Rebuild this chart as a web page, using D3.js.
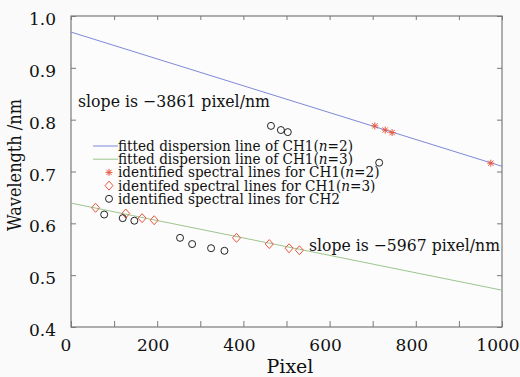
<!DOCTYPE html>
<html>
<head>
<meta charset="utf-8">
<script src="https://cdn.jsdelivr.net/npm/d3@7"></script>
<style>
  body { margin: 0; background: #fafafa; }
  svg { display: block; }
  text { font-family: "DejaVu Serif", serif; fill: #111; }
</style>
</head>
<body>
<svg id="chart" width="520" height="377"></svg>
<script>
// fitted lines (pixel, wavelength) end points
var fitN2 = [[0, 0.969], [1000, 0.710]];
var fitN3 = [[0, 0.639], [1000, 0.471]];

// identified lines, CH1 n=2 (stars)
var starPx = [705, 729, 745, 974];
var starWl = [0.788, 0.780, 0.775, 0.716];

// identified lines, CH1 n=3 (diamonds)
var diaPx = [57, 127, 165, 193, 384, 460, 506, 530];
var diaWl = [0.630, 0.619, 0.610, 0.606, 0.572, 0.560, 0.552, 0.548];

// identified lines, CH2 (circles)
var cirPx = [77, 120, 147, 253, 281, 325, 356, 464, 487, 503, 715];
var cirWl = [0.617, 0.610, 0.605, 0.572, 0.560, 0.552, 0.547, 0.788, 0.780, 0.776, 0.717];

var xTicks = [0, 200, 400, 600, 800, 1000];
var yTicks = [0.4, 0.5, 0.6, 0.7, 0.8, 0.9, 1.0];

var legendLabels = [
  ["fitted dispersion line of CH1(", "n", "=2)"],
  ["fitted dispersion line of CH1(", "n", "=3)"],
  ["identified spectral lines for CH1(", "n", "=2)"],
  ["identifed spectral lines for CH1(", "n", "=3)"],
  ["identified spectral lines for CH2", "", ""]
];

var blue = "#7f88d8", green = "#9cc48e", red = "#e8563e", axisCol = "#7a7a7a";

var svg = d3.select("#chart");
var m = {left: 71, right: 18, top: 16, bottom: 50};
var W = 520, H = 377;

var x = d3.scaleLinear().domain([0, 1000]).range([m.left, W - m.right]);
var y = d3.scaleLinear().domain([0.4, 1.0]).range([H - m.bottom, m.top]);

// box
svg.append("rect")
  .attr("x", x(0)).attr("y", y(1.0))
  .attr("width", x(1000) - x(0)).attr("height", y(0.4) - y(1.0))
  .attr("fill", "#fcfcfc").attr("stroke", axisCol).attr("stroke-width", 1.2);

// ticks on all four sides, pointing inward
var xt = d3.range(0, 1001, 100);
svg.append("g").attr("transform", "translate(0," + y(0.4) + ")")
  .call(d3.axisTop(x).tickValues(xt).tickSize(6).tickFormat(""))
  .call(g => g.select(".domain").remove());
svg.append("g").attr("transform", "translate(0," + y(1.0) + ")")
  .call(d3.axisBottom(x).tickValues(xt).tickSize(4).tickFormat(""))
  .call(g => g.select(".domain").remove());
svg.append("g").attr("transform", "translate(" + x(0) + ",0)")
  .call(d3.axisRight(y).tickValues(yTicks).tickSize(5).tickFormat(""))
  .call(g => g.select(".domain").remove());
svg.append("g").attr("transform", "translate(" + x(1000) + ",0)")
  .call(d3.axisLeft(y).tickValues(yTicks).tickSize(5).tickFormat(""))
  .call(g => g.select(".domain").remove());
svg.selectAll(".tick line").attr("stroke", axisCol);

// tick labels
svg.selectAll(".xlab").data(xTicks).enter().append("text")
  .attr("x", d => x(d) - (d === 0 ? 5 : 4))
  .attr("y", 351)
  .attr("text-anchor", "middle")
  .attr("font-size", 17)
  .text(d => d);
svg.selectAll(".ylab").data(yTicks).enter().append("text")
  .attr("x", 56)
  .attr("y", d => y(d) + 9)
  .attr("text-anchor", "end")
  .attr("font-size", 17)
  .text(d => d.toFixed(1));

// axis titles
svg.append("text").attr("x", 290).attr("y", 373)
  .attr("text-anchor", "middle").attr("font-size", 19).text("Pixel");
svg.append("text")
  .attr("transform", "translate(21,165) rotate(-90)")
  .attr("text-anchor", "middle").attr("font-size", 18)
  .attr("textLength", 132).attr("lengthAdjust", "spacingAndGlyphs")
  .text("Wavelength /nm");

// fitted lines
var line = d3.line().x(d => x(d[0])).y(d => y(d[1]));
svg.append("path").attr("d", line(fitN2)).attr("fill", "none")
  .attr("stroke", blue).attr("stroke-width", 1);
svg.append("path").attr("d", line(fitN3)).attr("fill", "none")
  .attr("stroke", green).attr("stroke-width", 1);

// marker helpers
function star(g, cx, cy) {
  var r = 3.5, d = r * 0.75;
  g.append("path")
    .attr("d", "M" + (cx - r) + "," + cy + "H" + (cx + r) +
      "M" + cx + "," + (cy - r) + "V" + (cy + r) +
      "M" + (cx - d) + "," + (cy - d) + "L" + (cx + d) + "," + (cy + d) +
      "M" + (cx - d) + "," + (cy + d) + "L" + (cx + d) + "," + (cy - d))
    .attr("stroke", red).attr("stroke-width", 1).attr("fill", "none");
}
function diamond(g, cx, cy) {
  var r = 4;
  g.append("path")
    .attr("d", "M" + cx + "," + (cy - r - 0.5) + "L" + (cx + r) + "," + cy +
      "L" + cx + "," + (cy + r + 0.5) + "L" + (cx - r) + "," + cy + "Z")
    .attr("stroke", red).attr("stroke-width", 1).attr("fill", "none");
}
function circle(g, cx, cy) {
  g.append("circle").attr("cx", cx).attr("cy", cy).attr("r", 3.5)
    .attr("stroke", "#222").attr("stroke-width", 1).attr("fill", "none");
}

var marks = svg.append("g");
starPx.forEach((p, i) => star(marks, x(p), y(starWl[i])));
diaPx.forEach((p, i) => diamond(marks, x(p), y(diaWl[i])));
cirPx.forEach((p, i) => circle(marks, x(p), y(cirWl[i])));

// slope annotations
svg.append("text").attr("x", 78).attr("y", 107).attr("font-size", 16.5)
  .attr("textLength", 192).attr("lengthAdjust", "spacingAndGlyphs")
  .text("slope is \u22123861 pixel/nm");
svg.append("text").attr("x", 309).attr("y", 251).attr("font-size", 16.5)
  .attr("textLength", 191).attr("lengthAdjust", "spacingAndGlyphs")
  .text("slope is \u22125967 pixel/nm");

// legend
var leg = svg.append("g");
var rowY = d => 146 + d * 13.2;
var rows = [];
legendLabels.forEach(function(lab, i) {
  var t = leg.append("text").attr("x", 118).attr("y", rowY(i) + 5)
    .attr("font-size", 14);
  t.append("tspan").text(lab[0]);
  if (lab[1]) {
    t.append("tspan").attr("font-style", "italic").text(lab[1]);
    t.append("tspan").text(lab[2]);
  }
  rows.push(t);
});
// squeeze legend text to the reference width (first row ~235px)
var k = 235 / rows[0].node().getComputedTextLength();
rows.forEach(t => t.attr("textLength", t.node().getComputedTextLength() * k)
  .attr("lengthAdjust", "spacingAndGlyphs"));

leg.append("line").attr("x1", 93).attr("x2", 118)
  .attr("y1", rowY(0)).attr("y2", rowY(0)).attr("stroke", blue);
leg.append("line").attr("x1", 93).attr("x2", 118)
  .attr("y1", rowY(1)).attr("y2", rowY(1)).attr("stroke", green);
star(leg, 109, rowY(2));
diamond(leg, 109, rowY(3));
circle(leg, 109, rowY(4));
</script>
</body>
</html>
